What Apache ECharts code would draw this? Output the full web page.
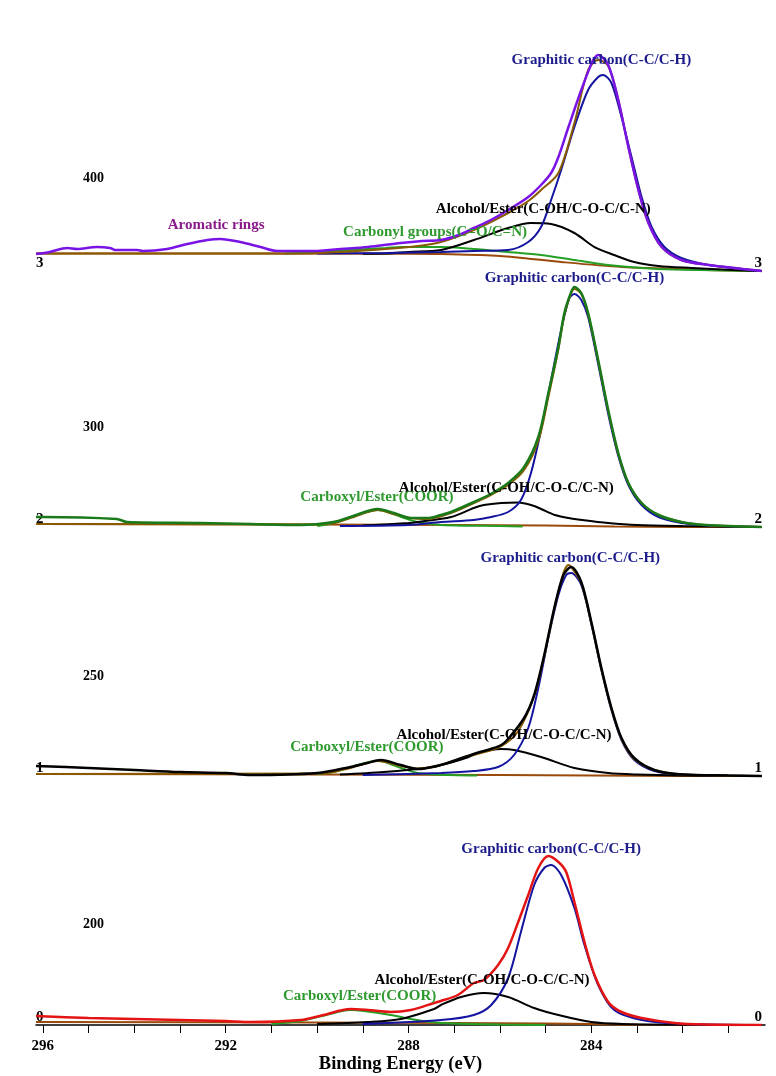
<!DOCTYPE html>
<html>
<head>
<meta charset="utf-8">
<script src="https://cdn.jsdelivr.net/npm/echarts@6/dist/echarts.min.js"></script>
<style>
html,body{margin:0;padding:0;background:#fff;}
#chart{width:776px;height:1076px;}
</style>
</head>
<body>
<div id="chart"></div>
<script>
// ---------- axis / tick data ----------
const energyTicks = [281,282,283,284,285,286,287,288,289,290,291,292,293,294,295,296];
const energyLabels = [284,288,292,296];
const panelOffsets = [0, 249, 498, 754];          // vertical stacking offsets (a.u.)
const panelTickLabels = ['0','1','2','3'];
const sideTickValues = [101, 349, 598, 847];
const sideTickLabels = ['200','250','300','400'];

// ---------- panel 3 (top) : [binding energy, intensity above panel baseline] ----------
const p3Raw = [[280.27,0],[281.43,6],[282.03,11],[282.46,24],[282.75,48],[282.97,81],[283.19,124],[283.41,171],[283.63,206],[283.85,216],[283.96,211],[284.22,181],[284.5,144],[284.72,114],[284.88,98],[285.1,86],[285.38,74],[285.82,61],[286.2,51],[286.57,43],[286.9,36],[287.29,31],[287.7,30],[288.17,28],[288.89,24],[289.48,22],[290.08,20],[290.87,20],[291.24,24],[291.68,29],[292.12,32],[292.4,31],[292.84,27],[293.28,22],[293.81,20],[293.94,21],[294.42,21],[294.53,23],[294.82,24],[295.25,22],[295.47,23],[295.85,19],[296.15,17]];
const p3Fit = [[280.27,0],[281.43,6],[282.03,11],[282.46,24],[282.75,48],[282.97,81],[283.19,124],[283.41,171],[283.63,205],[283.85,211],[284.07,201],[284.37,148],[284.72,98],[285.1,81],[285.38,70],[285.82,58],[286.57,41],[287.29,29],[287.8,25],[288.5,22],[289.5,19],[290.5,17.5],[296.15,17.5]];
const p3Graphitic = [[280.27,0],[281.43,6],[282.03,13],[282.4,24],[282.68,44],[282.9,74],[283.12,114],[283.34,154],[283.56,188],[283.74,196],[283.85,194],[284.07,181],[284.37,144],[284.66,101],[284.88,71],[285.1,44],[285.38,29],[285.82,21],[286.57,20],[287.29,19],[288.5,18],[290,17.5]];
const p3Alcohol = [[280.27,0],[280.9,1],[281.81,3],[282.53,5],[283.06,9],[283.5,16],[283.93,24],[284.37,38],[284.88,47],[285.32,48],[285.82,43],[286.57,31],[287.29,21],[288.0,19],[288.45,17.5],[289.0,17.3]];
const p3Carbonyl = [[280.27,0],[282.2,1.5],[282.9,3],[283.63,6],[284.37,11],[285.1,16],[285.82,19],[286.57,22],[287.29,24],[288.17,24],[288.5,23],[289.5,20.5],[290.0,19],[290.7,17.5]];
const p3Background = [[280.27,0],[281.5,1],[282.46,2.7],[283.34,4],[284.66,9],[286.0,15],[287.29,17],[288.0,17.3],[296.15,17.5]];

// ---------- panel 2 ----------
const p2Raw = [[280.27,0],[281.5,2],[282.03,5],[282.53,12],[282.9,24],[283.19,44],[283.41,74],[283.63,117],[283.85,167],[284.07,214],[284.22,234],[284.37,240],[284.44,235],[284.59,214],[284.72,180],[284.94,134],[285.16,90],[285.47,60],[285.82,44],[286.2,33],[286.57,25],[287.07,15],[287.29,12],[287.58,9],[287.95,9],[288.32,14],[288.67,18],[289.27,10],[289.64,5],[290.36,2],[291.46,3],[292.56,4],[294.16,5],[294.38,8],[296.0,10],[296.15,10]];
const p2Fit = [[280.27,0],[281.5,2],[282.03,5],[282.53,12],[282.9,24],[283.19,44],[283.41,73],[283.63,116],[283.85,166],[284.07,213],[284.22,233],[284.37,238],[284.44,234],[284.59,212],[284.72,178],[284.94,130],[285.16,86],[285.47,57],[285.82,42],[286.2,32],[286.57,24],[287.07,14],[287.58,8],[287.95,9],[288.32,13],[288.67,17],[289.27,9],[289.64,4],[290.36,2.5],[296.15,3]];
const p2Graphitic = [[280.27,0],[281.5,1.5],[282.03,4],[282.53,10],[282.9,22],[283.19,42],[283.41,71],[283.63,113],[283.85,163],[284.07,210],[284.22,227],[284.37,233],[284.48,229],[284.66,197],[284.88,147],[285.1,97],[285.32,54],[285.54,27],[285.82,15],[286.19,10],[286.57,7],[287.29,5],[288.0,2],[289.5,1]];
const p2Alcohol = [[280.27,0],[282.0,1],[283.0,2],[283.63,4],[284.2,7],[284.5,9],[284.8,12],[285.1,18],[285.25,21],[285.6,24.5],[285.97,24],[286.35,22],[286.57,19],[287.07,10],[287.8,5],[288.0,4],[289.0,1.5]];
const p2Carboxyl = [[285.5,0.5],[286.0,1],[287.0,1.5],[287.4,2.5],[287.8,5],[288.1,9],[288.4,14],[288.67,17],[288.9,15],[289.27,10],[289.64,4],[290.0,1]];
const p2Background = [[280.27,0],[282.0,0],[283.5,0.5],[285.0,1.5],[287.0,2],[290.0,2.5],[296.15,3]];

// ---------- panel 1 ----------
const p1Raw = [[280.27,0],[281.0,0.5],[282.0,1.5],[282.62,6],[283.06,18],[283.34,38],[283.56,68],[283.78,108],[284.0,154],[284.22,194],[284.44,209],[284.61,201],[284.81,168],[285.03,121],[285.25,81],[285.47,58],[285.82,37],[285.97,31],[286.2,27],[286.57,22],[286.7,19],[287.3,11],[287.8,7],[288.17,11],[288.61,16],[288.9,13],[289.27,9],[289.99,3],[291.46,1],[292.0,3],[293.0,4],[294.0,6],[295.0,8],[296.15,10]];
const p1Fit = [[280.27,0],[282.0,1.5],[282.62,6],[283.06,17],[283.34,37],[283.56,67],[283.78,107],[284.0,153],[284.22,193],[284.44,209],[284.5,211],[284.61,203],[284.81,167],[285.03,120],[285.25,80],[285.6,45],[285.97,30],[286.57,21],[287.29,11],[287.8,7.5],[288.17,10],[288.67,15],[289.27,8],[289.9,2.5],[296.15,2]];
const p1Graphitic = [[280.27,0],[282.0,1.5],[282.62,5],[283.06,16],[283.34,36],[283.56,66],[283.78,106],[284.0,152],[284.22,191],[284.44,203],[284.55,201],[284.72,181],[284.94,138],[285.16,88],[285.38,48],[285.69,21],[286.04,9],[286.57,5],[287.29,3],[289.0,1]];
const p1Alcohol = [[280.27,0],[282.0,0.5],[283.0,1.5],[283.63,3],[284.37,8],[285.1,19],[285.69,26],[285.97,27],[286.57,22],[287.29,11],[287.44,9],[288.54,4],[289.5,1.5]];
const p1Carboxyl = [[286.5,0.5],[287.4,1.5],[287.8,3],[288.1,7],[288.4,12],[288.67,15.5],[288.9,13.5],[289.27,9],[289.64,4],[290.0,2]];
const p1Background = [[280.27,0],[282.0,0],[284.0,0.5],[286.0,1],[290.0,1.5],[296.15,2]];

// ---------- panel 0 (bottom) ----------
const p0Raw = [[280.27,0],[281.5,0.5],[282.18,2],[282.9,7],[283.34,13],[283.63,23],[283.93,50],[284.15,83],[284.37,123],[284.55,153],[284.72,163],[284.94,169],[285.16,157],[285.38,130],[285.6,103],[285.82,77],[286.04,60],[286.35,45],[286.57,42],[286.92,30],[287.29,24],[287.44,22],[287.95,15],[288.39,13],[288.89,15],[289.27,16],[289.86,10],[290.36,5],[291.46,3],[292.0,4],[293.0,5],[294.0,6],[295.0,7],[296.15,9]];
const p0Graphitic = [[280.27,0],[282.0,1],[282.9,5],[283.5,15],[283.85,40],[284.15,80],[284.37,117],[284.66,150],[284.88,160],[285.03,157],[285.25,140],[285.54,93],[285.82,47],[286.19,20],[286.57,10],[287.29,5],[289.0,1]];
const p0Alcohol = [[280.27,0],[282.0,0.3],[283.3,1],[284.0,3],[284.72,10],[285.25,17],[285.82,28],[286.35,32],[286.85,28],[287.29,20],[287.44,16],[288.17,6],[288.89,3],[290.0,1]];
const p0Carboxyl = [[285.0,0],[286.0,0.5],[287.0,1.5],[287.51,3],[287.95,6],[288.39,10],[288.98,14],[289.27,15],[289.8,10],[290.36,4],[291.0,1]];
const p0Background = [[280.27,0],[283.0,0.3],[284.0,1],[285.0,1.5],[287.0,2],[290.0,2.5],[296.15,3]];

// ---------- annotations: [text, energy, stacked intensity] ----------
const graphiticNotes = [['Graphitic carbon(C-C/C-H)',283.78,965],['Graphitic carbon(C-C/C-H)',284.37,747],['Graphitic carbon(C-C/C-H)',284.46,467],['Graphitic carbon(C-C/C-H)',284.88,176]];
const alcoholNotes = [['Alcohol/Ester(C-OH/C-O-C/C-N)',285.05,816],['Alcohol/Ester(C-OH/C-O-C/C-N)',285.86,537],['Alcohol/Ester(C-OH/C-O-C/C-N)',285.91,290],['Alcohol/Ester(C-OH/C-O-C/C-N)',286.39,45]];
const oxygenNotes = [['Carbonyl groups(C=O/C=N)',287.42,793],['Carboxyl/Ester(COOR)',288.69,528],['Carboxyl/Ester(COOR)',288.91,278],['Carboxyl/Ester(COOR)',289.07,29]];
const aromaticNotes = [['Aromatic rings',292.21,800]];

// ---------- styles ----------
const SERIF = '"Liberation Serif","Times New Roman",serif';
const C = {
  purple:'#7a14e6', brown:'#9a4a0a', fitBrown:'#8a5a00', blue:'#1414a0', black:'#000000',
  green:'#25a025', darkGreen:'#1a7a1a', red:'#e41414',
  txtBlue:'#1c1c8c', txtGreen:'#2e9a2e', txtPurple:'#8a1a8a'
};

function shift(arr, off){ return arr.map(p => [p[0], p[1] + off]); }
function line(name, data, off, color, width, z){
  return { name, type:'line', data: shift(data, off), showSymbol:false, symbol:'none',
    smooth:0.3, lineStyle:{color, width}, z: z || 2, silent:true };
}

const series = [];
// panel 3
series.push(line('p3bg', p3Background, panelOffsets[3], C.brown, 2, 2));
series.push(line('p3co', p3Carbonyl, panelOffsets[3], C.green, 2, 3));
series.push(line('p3al', p3Alcohol, panelOffsets[3], C.black, 2, 3));
series.push(line('p3gr', p3Graphitic, panelOffsets[3], C.blue, 2, 3));
series.push(line('p3fit', p3Fit, panelOffsets[3], C.fitBrown, 2, 4));
series.push(line('p3raw', p3Raw, panelOffsets[3], C.purple, 2.5, 5));
// panel 2
series.push(line('p2bg', p2Background, panelOffsets[2], C.brown, 2, 2));
series.push(line('p2cx', p2Carboxyl, panelOffsets[2], C.green, 2, 3));
series.push(line('p2al', p2Alcohol, panelOffsets[2], C.black, 2, 3));
series.push(line('p2gr', p2Graphitic, panelOffsets[2], C.blue, 2, 3));
series.push(line('p2fit', p2Fit, panelOffsets[2], C.fitBrown, 2, 4));
series.push(line('p2raw', p2Raw, panelOffsets[2], C.darkGreen, 2.5, 5));
// panel 1
series.push(line('p1bg', p1Background, panelOffsets[1], C.brown, 2, 2));
series.push(line('p1cx', p1Carboxyl, panelOffsets[1], C.green, 2, 3));
series.push(line('p1al', p1Alcohol, panelOffsets[1], C.black, 2, 3));
series.push(line('p1gr', p1Graphitic, panelOffsets[1], C.blue, 2, 3));
series.push(line('p1fit', p1Fit, panelOffsets[1], C.fitBrown, 2, 4));
series.push(line('p1raw', p1Raw, panelOffsets[1], C.black, 2.5, 5));
// panel 0
series.push(line('p0bg', p0Background, panelOffsets[0], C.brown, 2, 2));
series.push(line('p0cx', p0Carboxyl, panelOffsets[0], C.green, 2, 3));
series.push(line('p0al', p0Alcohol, panelOffsets[0], C.black, 2, 3));
series.push(line('p0gr', p0Graphitic, panelOffsets[0], C.blue, 2, 3));
series.push(line('p0raw', p0Raw, panelOffsets[0], C.red, 2.5, 5));

function notes(list, color){
  return { type:'scatter', symbolSize:1, itemStyle:{color:'transparent', opacity:1}, z:6, silent:true,
    data: list.map(n => ({ value:[n[1], n[2]], label:{ show:true, position:'inside', formatter:n[0],
      color, opacity:1, textBorderWidth:0, textBorderColor:'transparent', textShadowBlur:0,
      fontFamily:SERIF, fontWeight:'bold', fontSize:15 } })) };
}
series.push(notes(graphiticNotes, C.txtBlue));
series.push(notes(alcoholNotes, C.black));
series.push(notes(oxygenNotes, C.txtGreen));
series.push(notes(aromaticNotes, C.txtPurple));

const chart = echarts.init(document.getElementById('chart'), null, {renderer:'canvas'});
chart.setOption({
  animation:false,
  backgroundColor:'#ffffff',
  grid:{left:36, right:11, top:25, bottom:51, containLabel:false, outerBoundsMode:'none'},
  xAxis:{
    type:'value', inverse:true, min:280.2, max:296.15,
    name:'Binding Energy (eV)', nameLocation:'middle', nameGap:30, nameMoveOverlap:false,
    nameTextStyle:{fontFamily:SERIF, fontWeight:'bold', fontSize:18.5, color:'#000'},
    axisLine:{show:true, lineStyle:{color:'#000', width:1.5}},
    axisTick:{show:true, inside:false, length:8, lineStyle:{color:'#000', width:1}, customValues:energyTicks},
    axisLabel:{show:true, margin:14, fontFamily:SERIF, fontWeight:'bold', fontSize:15, color:'#000',
      customValues:energyLabels, formatter:v => String(Math.round(v))},
    splitLine:{show:false}
  },
  yAxis:[
    { type:'value', position:'left', min:0, max:1000,
      axisLine:{show:false}, axisTick:{show:false}, splitLine:{show:false},
      axisLabel:{show:true, inside:true, margin:0, verticalAlign:'bottom', fontFamily:SERIF, fontWeight:'bold', fontSize:15, color:'#000',
        customValues:panelOffsets, formatter:v => panelTickLabels[panelOffsets.indexOf(v)]} },
    { type:'value', position:'left', min:0, max:1000,
      axisLine:{show:false}, axisTick:{show:false}, splitLine:{show:false},
      axisLabel:{show:true, inside:true, margin:47, fontFamily:SERIF, fontWeight:'bold', fontSize:14, color:'#000',
        customValues:sideTickValues, formatter:v => sideTickLabels[sideTickValues.indexOf(v)]} },
    { type:'value', position:'right', min:0, max:1000,
      axisLine:{show:false}, axisTick:{show:false}, splitLine:{show:false},
      axisLabel:{show:true, inside:true, margin:3, verticalAlign:'bottom', fontFamily:SERIF, fontWeight:'bold', fontSize:15, color:'#000',
        customValues:panelOffsets, formatter:v => panelTickLabels[panelOffsets.indexOf(v)]} }
  ],
  series
});
</script>
</body>
</html>
